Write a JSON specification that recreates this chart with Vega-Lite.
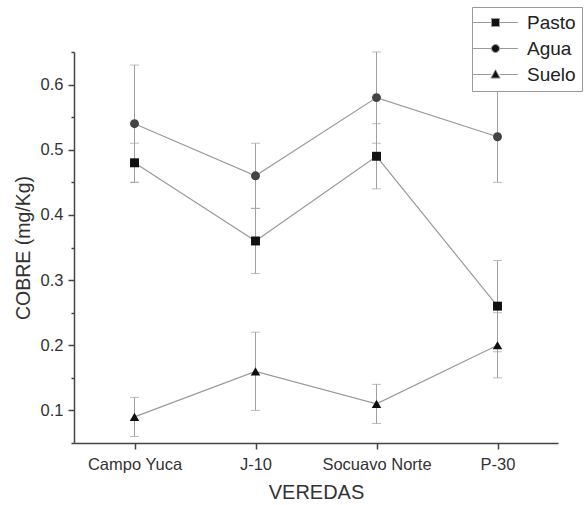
{
  "$schema": "https://vega.github.io/schema/vega-lite/v6.json",
  "autosize": "none",
  "width": 484,
  "height": 391,
  "padding": {"left": 74, "top": 52, "right": 28, "bottom": 62},
  "background": "white",
  "config": {
    "view": {"stroke": null},
    "font": "Liberation Sans",
    "axis": {"grid": false, "domainColor": "#444", "domainWidth": 1.5, "tickColor": "#444", "tickWidth": 1.5, "labelColor": "#333", "titleColor": "#333", "labelFont": "Liberation Sans", "titleFont": "Liberation Sans", "titleFontWeight": "normal"}
  },
  "data": {"values": [
    {"vereda": "Campo Yuca", "serie": "Pasto", "valor": 0.48, "lo": 0.45, "hi": 0.51},
    {"vereda": "J-10", "serie": "Pasto", "valor": 0.36, "lo": 0.31, "hi": 0.41},
    {"vereda": "Socuavo Norte", "serie": "Pasto", "valor": 0.49, "lo": 0.44, "hi": 0.54},
    {"vereda": "P-30", "serie": "Pasto", "valor": 0.26, "lo": 0.19, "hi": 0.33},
    {"vereda": "Campo Yuca", "serie": "Agua", "valor": 0.54, "lo": 0.45, "hi": 0.63},
    {"vereda": "J-10", "serie": "Agua", "valor": 0.46, "lo": 0.41, "hi": 0.51},
    {"vereda": "Socuavo Norte", "serie": "Agua", "valor": 0.58, "lo": 0.51, "hi": 0.65},
    {"vereda": "P-30", "serie": "Agua", "valor": 0.52, "lo": 0.45, "hi": 0.59},
    {"vereda": "Campo Yuca", "serie": "Suelo", "valor": 0.09, "lo": 0.06, "hi": 0.12},
    {"vereda": "J-10", "serie": "Suelo", "valor": 0.16, "lo": 0.10, "hi": 0.22},
    {"vereda": "Socuavo Norte", "serie": "Suelo", "valor": 0.11, "lo": 0.08, "hi": 0.14},
    {"vereda": "P-30", "serie": "Suelo", "valor": 0.20, "lo": 0.15, "hi": 0.25}
  ]},
  "encoding": {
    "x": {"field": "vereda", "type": "nominal", "sort": null,
      "scale": {"type": "point", "padding": 0.5, "domain": ["Campo Yuca", "J-10", "Socuavo Norte", "P-30"]},
      "axis": {"title": "VEREDAS", "labelAngle": 0, "labelFontSize": 16.5, "titleFontSize": 20, "tickSize": 6, "labelPadding": 7, "titlePadding": 10}}
  },
  "layer": [
    {
      "mark": {"type": "rule", "color": "#a0a0a0", "strokeWidth": 1},
      "encoding": {
        "y": {"field": "lo", "type": "quantitative", "scale": {"domain": [0.05, 0.65], "nice": false, "zero": false},
          "axis": {"orient": "left", "title": "COBRE (mg/Kg)", "values": [0.1, 0.2, 0.3, 0.4, 0.5, 0.6], "format": ".1f", "labelFontSize": 16.5, "titleFontSize": 19.5, "tickSize": 6, "labelPadding": 5, "titlePadding": 7}},
        "y2": {"field": "hi"}
      }
    },
    {
      "mark": {"type": "tick", "color": "#a0a0a0", "thickness": 1, "size": 9, "orient": "horizontal"},
      "encoding": {"y": {"field": "lo", "type": "quantitative", "axis": {"orient": "left", "values": [0.05, 0.15, 0.25, 0.35, 0.45, 0.55, 0.65], "labels": false, "domain": false, "title": null, "tickSize": 3}}}
    },
    {
      "mark": {"type": "tick", "color": "#a0a0a0", "thickness": 1, "size": 9, "orient": "horizontal"},
      "encoding": {"y": {"field": "hi", "type": "quantitative", "axis": null}}
    },
    {
      "mark": {"type": "line", "color": "#9a9a9a", "strokeWidth": 1.2},
      "encoding": {
        "y": {"field": "valor", "type": "quantitative", "axis": null},
        "detail": {"field": "serie"}
      }
    },
    {
      "transform": [{"filter": "datum.serie === 'Pasto'"}],
      "mark": {"type": "point", "filled": true, "opacity": 1, "size": 80, "shape": "square", "color": "#111111"},
      "encoding": {"y": {"field": "valor", "type": "quantitative", "axis": null}}
    },
    {
      "transform": [{"filter": "datum.serie === 'Agua'"}],
      "mark": {"type": "point", "filled": true, "opacity": 1, "size": 80, "shape": "circle", "color": "#444444"},
      "encoding": {"y": {"field": "valor", "type": "quantitative", "axis": null}}
    },
    {
      "transform": [{"filter": "datum.serie === 'Suelo'"}],
      "mark": {"type": "point", "filled": true, "opacity": 1, "size": 90, "shape": "triangle-up", "color": "#111111"},
      "encoding": {"y": {"field": "valor", "type": "quantitative", "axis": null}}
    },
    {
      "transform": [{"filter": "datum.valor < 0"}],
      "mark": {"type": "point", "filled": false, "color": "#999999", "fill": "#111111", "fillOpacity": 1, "strokeWidth": 1, "opacity": 1},
      "encoding": {
        "y": {"field": "valor", "type": "quantitative", "axis": null},
        "shape": {"field": "serie", "type": "nominal",
          "scale": {"domain": ["Pasto", "Agua", "Suelo"], "range": [
            "M-5.6,0H-1M1,0H5.6M-1,-1H1V1H-1Z",
            "M-5.6,0H-1M1,0H5.6M1,0A1,1,0,1,1,-1,0A1,1,0,1,1,1,0Z",
            "M-5.6,0H-1.1M1.1,0H5.6M0,-1.2L1.15,0.9H-1.15Z"
          ]},
          "legend": {"title": null, "orient": "none", "legendX": 398, "legendY": -45, "strokeColor": "#999", "fillColor": "white", "padding": 6, "symbolSize": 64, "symbolOffset": 8, "symbolStrokeWidth": 1, "symbolOpacity": 1, "labelFontSize": 19, "labelColor": "#222", "labelOffset": 22, "rowPadding": 6}
        }
      }
    }
  ],
  "resolve": {"axis": {"y": "independent"}}
}
